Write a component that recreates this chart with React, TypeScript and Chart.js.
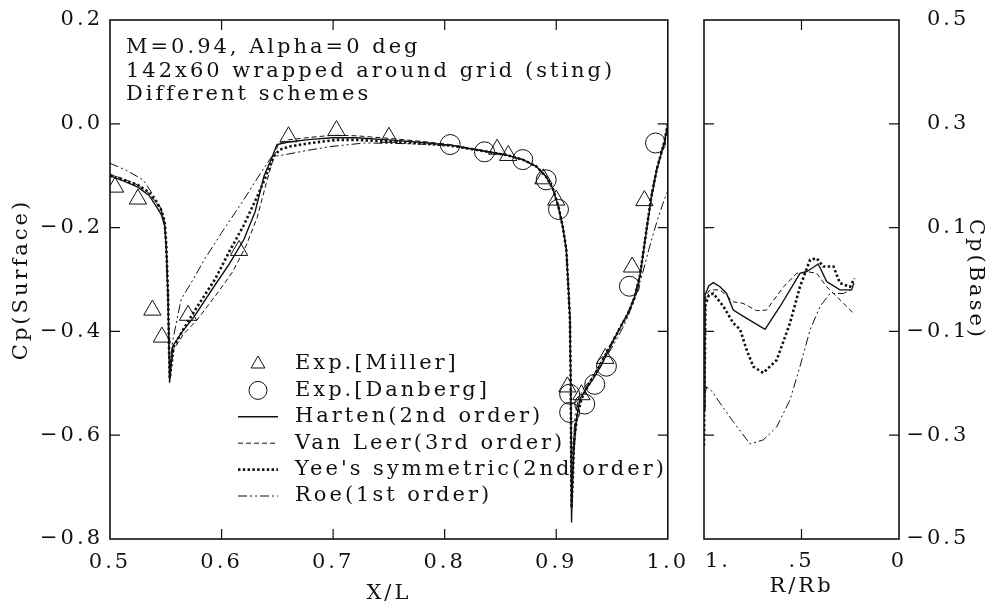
import React, { useEffect, useRef } from 'react';
import { Chart, registerables } from 'chart.js';

Chart.register(...registerables);

// ---------------- data: surface pressure (left panel) ----------------
const MILLER_X = [0.5045, 0.525, 0.538, 0.5465, 0.570, 0.6157, 0.660, 0.703, 0.750, 0.847, 0.857, 0.8885, 0.900, 0.910, 0.9226, 0.944, 0.968, 0.979];
const MILLER_Y = [-0.122, -0.145, -0.359, -0.411, -0.369, -0.244, -0.025, -0.013, -0.026, -0.049, -0.061, -0.106, -0.147, -0.507, -0.522, -0.452, -0.276, -0.148];

const DANBERG_X = [0.805, 0.8357, 0.870, 0.891, 0.902, 0.912, 0.912, 0.9255, 0.9345, 0.945, 0.9656, 0.989];
const DANBERG_Y = [-0.040, -0.054, -0.069, -0.108, -0.165, -0.521, -0.556, -0.540, -0.502, -0.467, -0.313, -0.037];

const HARTEN_X = [0.500, 0.512, 0.525, 0.535, 0.5415, 0.546, 0.549, 0.5505, 0.552, 0.553, 0.5534, 0.5563, 0.565, 0.5756, 0.5934, 0.607, 0.620, 0.630, 0.638, 0.645, 0.6497, 0.660, 0.680, 0.700, 0.720, 0.750, 0.780, 0.805, 0.836, 0.855, 0.870, 0.882, 0.891, 0.897, 0.902, 0.906, 0.909, 0.9108, 0.9123, 0.913, 0.9137, 0.9145, 0.9155, 0.918, 0.921, 0.927, 0.933, 0.940, 0.946, 0.952, 0.958, 0.964, 0.970, 0.975, 0.980, 0.985, 0.990, 0.9968, 1.000];
const HARTEN_Y = [-0.100, -0.110, -0.122, -0.138, -0.159, -0.175, -0.197, -0.242, -0.338, -0.447, -0.499, -0.428, -0.400, -0.371, -0.313, -0.270, -0.223, -0.170, -0.101, -0.066, -0.040, -0.035, -0.030, -0.027, -0.027, -0.031, -0.036, -0.041, -0.053, -0.060, -0.069, -0.082, -0.102, -0.125, -0.160, -0.200, -0.242, -0.313, -0.373, -0.500, -0.768, -0.700, -0.640, -0.572, -0.531, -0.510, -0.492, -0.467, -0.441, -0.415, -0.390, -0.367, -0.335, -0.295, -0.220, -0.146, -0.090, -0.037, -0.002];

const VANLEER_X = [0.500, 0.512, 0.525, 0.535, 0.5415, 0.546, 0.549, 0.5505, 0.552, 0.553, 0.5536, 0.557, 0.566, 0.578, 0.595, 0.610, 0.622, 0.632, 0.640, 0.646, 0.651, 0.660, 0.680, 0.700, 0.720, 0.750, 0.780, 0.805, 0.836, 0.855, 0.870, 0.882, 0.891, 0.897, 0.902, 0.906, 0.909, 0.9108, 0.9123, 0.913, 0.9137, 0.9147, 0.916, 0.919, 0.923, 0.929, 0.936, 0.943, 0.950, 0.957, 0.964, 0.970, 0.975, 0.980, 0.985, 0.990, 0.9968, 1.000];
const VANLEER_Y = [-0.097, -0.106, -0.118, -0.134, -0.152, -0.168, -0.190, -0.235, -0.330, -0.440, -0.480, -0.435, -0.405, -0.378, -0.330, -0.285, -0.235, -0.180, -0.115, -0.070, -0.038, -0.031, -0.026, -0.022, -0.023, -0.028, -0.034, -0.040, -0.052, -0.060, -0.069, -0.082, -0.102, -0.125, -0.160, -0.200, -0.242, -0.313, -0.380, -0.510, -0.730, -0.680, -0.600, -0.555, -0.525, -0.500, -0.475, -0.448, -0.420, -0.392, -0.365, -0.333, -0.290, -0.215, -0.140, -0.085, -0.035, 0.000];

const YEE_X = [0.500, 0.512, 0.525, 0.535, 0.5415, 0.546, 0.549, 0.5505, 0.552, 0.553, 0.5536, 0.557, 0.566, 0.5786, 0.594, 0.608, 0.620, 0.632, 0.640, 0.6468, 0.652, 0.660, 0.680, 0.703, 0.720, 0.750, 0.780, 0.805, 0.836, 0.855, 0.870, 0.882, 0.891, 0.897, 0.902, 0.906, 0.909, 0.9108, 0.9123, 0.913, 0.9137, 0.9147, 0.916, 0.919, 0.923, 0.929, 0.936, 0.943, 0.950, 0.957, 0.964, 0.970, 0.975, 0.980, 0.985, 0.990, 0.9968, 1.000];
const YEE_Y = [-0.100, -0.108, -0.118, -0.132, -0.150, -0.166, -0.188, -0.235, -0.330, -0.440, -0.490, -0.430, -0.395, -0.351, -0.300, -0.242, -0.195, -0.140, -0.100, -0.063, -0.050, -0.044, -0.037, -0.031, -0.031, -0.034, -0.038, -0.042, -0.053, -0.060, -0.069, -0.082, -0.102, -0.125, -0.160, -0.200, -0.242, -0.313, -0.380, -0.510, -0.740, -0.690, -0.610, -0.560, -0.528, -0.503, -0.477, -0.450, -0.422, -0.394, -0.367, -0.336, -0.293, -0.218, -0.143, -0.088, -0.036, -0.001];

const ROE_X = [0.500, 0.515, 0.5297, 0.5415, 0.546, 0.549, 0.5505, 0.552, 0.553, 0.5537, 0.556, 0.5638, 0.5745, 0.5845, 0.600, 0.620, 0.635, 0.645, 0.6557, 0.675, 0.697, 0.728, 0.760, 0.790, 0.805, 0.836, 0.855, 0.870, 0.882, 0.891, 0.897, 0.902, 0.906, 0.909, 0.9108, 0.9123, 0.913, 0.914, 0.9152, 0.917, 0.920, 0.925, 0.932, 0.940, 0.948, 0.955, 0.962, 0.970, 0.9775, 0.983, 0.990, 0.9968, 1.000];
const ROE_Y = [-0.076, -0.090, -0.108, -0.146, -0.165, -0.195, -0.240, -0.330, -0.430, -0.470, -0.420, -0.338, -0.300, -0.262, -0.210, -0.146, -0.095, -0.063, -0.060, -0.052, -0.044, -0.037, -0.038, -0.040, -0.042, -0.053, -0.060, -0.069, -0.082, -0.102, -0.125, -0.160, -0.200, -0.242, -0.313, -0.373, -0.500, -0.680, -0.620, -0.560, -0.530, -0.508, -0.490, -0.465, -0.438, -0.412, -0.383, -0.340, -0.287, -0.242, -0.190, -0.146, -0.130];

// ---------------- data: base pressure (right panel) ----------------
const BASE_HARTEN_R = [1.0, 0.995, 0.975, 0.952, 0.918, 0.884, 0.85, 0.781, 0.687, 0.61, 0.508, 0.473, 0.414, 0.371, 0.346, 0.303, 0.243, 0.231];
const BASE_HARTEN_CP = [-0.25, -0.03, -0.012, -0.006, -0.014, -0.027, -0.059, -0.075, -0.096, -0.052, 0.012, 0.015, 0.030, -0.004, -0.010, -0.020, -0.020, -0.007];

const BASE_VANLEER_R = [1.0, 0.99, 0.969, 0.918, 0.85, 0.80, 0.73, 0.68, 0.592, 0.524, 0.47, 0.422, 0.371, 0.319, 0.268, 0.234];
const BASE_VANLEER_CP = [-0.15, -0.03, -0.02, -0.02, -0.043, -0.046, -0.06, -0.059, -0.014, 0.012, 0.015, 0.012, -0.014, -0.033, -0.052, -0.065];

const BASE_YEE_R = [1.0, 0.993, 0.975, 0.952, 0.90, 0.85, 0.815, 0.781, 0.747, 0.696, 0.627, 0.559, 0.508, 0.456, 0.422, 0.388, 0.336, 0.303, 0.251, 0.229];
const BASE_YEE_CP = [-0.32, -0.05, -0.03, -0.027, -0.052, -0.084, -0.096, -0.136, -0.168, -0.18, -0.155, -0.084, -0.014, 0.038, 0.041, 0.025, 0.025, -0.007, -0.014, 0.002];

const BASE_ROE_R = [0.995, 0.986, 0.96, 0.918, 0.85, 0.764, 0.696, 0.627, 0.559, 0.508, 0.456, 0.405, 0.354, 0.285, 0.234];
const BASE_ROE_CP = [-0.22, -0.207, -0.215, -0.238, -0.274, -0.317, -0.309, -0.284, -0.232, -0.168, -0.097, -0.052, -0.027, -0.027, -0.017];

// ---------------- text ----------------
const ANNOTATION_LINES = ['M=0.94, Alpha=0 deg', '142x60 wrapped around grid (sting)', 'Different schemes'];
const LEGEND_LABELS = ['Exp.[Miller]', 'Exp.[Danberg]', 'Harten(2nd order)', 'Van Leer(3rd order)', "Yee's symmetric(2nd order)", 'Roe(1st order)'];
const BASE_R_TICKS = [1, 0.5, 0];
const BASE_R_LABELS = ['1.', '.5', '0'];
const BASE_Y_TITLE = 'Cp(Base)';
const MINUS = '\u2212';

// ---------------- styles ----------------
const FONT = "'DejaVu Serif', serif";
const FONT_SIZE = 21;
const INK = '#111111';
const LS = '3px';
const TICK_LEN = 10;

const STYLE_HARTEN = { borderDash: [] as number[], borderWidth: 1.4 };
const STYLE_VANLEER = { borderDash: [5, 3], borderWidth: 1 };
const STYLE_YEE = { borderDash: [2.4, 2.4], borderWidth: 2.6 };
const STYLE_ROE = { borderDash: [9, 3, 2, 3, 2, 3], borderWidth: 1 };

const zip = (xs: number[], ys: number[]) => xs.map((x, i) => ({ x, y: ys[i] }));
const abs1 = (v: number) => (Math.abs(v) < 1e-9 ? '0.0' : Math.abs(v).toFixed(1));
const fmt1 = (v: number) => (v < -1e-9 ? MINUS + abs1(v) : abs1(v));

const lineDs = (label: string, xs: number[], ys: number[], st: any) => ({
  label,
  data: zip(xs, ys),
  showLine: true,
  pointRadius: 0,
  borderColor: INK,
  backgroundColor: 'rgba(0,0,0,0)',
  borderDash: st.borderDash,
  borderWidth: st.borderWidth,
  borderCapStyle: 'butt',
  tension: 0,
  fill: false,
});

const spacingPlugin = {
  id: 'spacing',
  beforeUpdate(chart: any) {
    chart.ctx.letterSpacing = LS;
  },
  beforeDraw(chart: any) {
    chart.ctx.letterSpacing = LS;
  },
};

const frameTicksPlugin = {
  id: 'frameTicks',
  afterDatasetsDraw(chart: any) {
    const { ctx, chartArea: a, scales } = chart;
    const xs = scales.x;
    const ys = scales.y;
    ctx.save();
    ctx.strokeStyle = INK;
    ctx.setLineDash([]);
    ctx.lineWidth = 1.6;
    ctx.strokeRect(a.left, a.top, a.right - a.left, a.bottom - a.top);
    ctx.lineWidth = 1.2;
    ctx.beginPath();
    xs.ticks.forEach((t: any) => {
      const px = xs.getPixelForValue(t.value);
      if (px <= a.left + 1 || px >= a.right - 1) return;
      ctx.moveTo(px, a.bottom);
      ctx.lineTo(px, a.bottom - TICK_LEN);
      ctx.moveTo(px, a.top);
      ctx.lineTo(px, a.top + TICK_LEN);
    });
    ys.ticks.forEach((t: any) => {
      const py = ys.getPixelForValue(t.value);
      if (py <= a.top + 1 || py >= a.bottom - 1) return;
      ctx.moveTo(a.left, py);
      ctx.lineTo(a.left + TICK_LEN, py);
      ctx.moveTo(a.right, py);
      ctx.lineTo(a.right - TICK_LEN, py);
    });
    ctx.stroke();
    ctx.restore();
  },
};

const textPlugin = {
  id: 'surfaceText',
  afterDraw(chart: any) {
    const ctx = chart.ctx;
    const a = chart.chartArea;
    ctx.save();
    ctx.letterSpacing = LS;
    ctx.fillStyle = INK;
    ctx.font = `${FONT_SIZE}px ${FONT}`;
    ctx.textAlign = 'left';
    ctx.textBaseline = 'alphabetic';
    ANNOTATION_LINES.forEach((s, i) => {
      ctx.fillText(s, a.left + 16, a.top + 33 + i * 23.5);
    });
    const rowY0 = a.top + 344;
    const rowStep = 26.4;
    const symX = a.left + 148;
    const lineX0 = a.left + 128;
    const lineX1 = a.left + 168;
    const textX = a.left + 185;
    ctx.strokeStyle = INK;
    LEGEND_LABELS.forEach((lab, i) => {
      const y = rowY0 + i * rowStep;
      ctx.save();
      ctx.lineWidth = 1;
      ctx.setLineDash([]);
      if (i === 0) {
        const r = 8;
        ctx.beginPath();
        ctx.moveTo(symX, y - r);
        ctx.lineTo(symX + r * 0.866, y + r * 0.5);
        ctx.lineTo(symX - r * 0.866, y + r * 0.5);
        ctx.closePath();
        ctx.stroke();
      } else if (i === 1) {
        ctx.beginPath();
        ctx.arc(symX, y, 9, 0, Math.PI * 2);
        ctx.stroke();
      } else {
        const st = [STYLE_HARTEN, STYLE_VANLEER, STYLE_YEE, STYLE_ROE][i - 2];
        ctx.lineWidth = st.borderWidth;
        ctx.setLineDash(st.borderDash);
        ctx.beginPath();
        ctx.moveTo(lineX0, y);
        ctx.lineTo(lineX1, y);
        ctx.stroke();
      }
      ctx.restore();
      ctx.textBaseline = 'middle';
      ctx.fillText(lab, textX, y);
    });
    ctx.restore();
  },
};

const baseTextPlugin = {
  id: 'baseText',
  afterDraw(chart: any) {
    const ctx = chart.ctx;
    const a = chart.chartArea;
    const xs = chart.scales.x;
    const ys = chart.scales.y;
    ctx.save();
    ctx.letterSpacing = LS;
    ctx.fillStyle = INK;
    ctx.font = `${FONT_SIZE}px ${FONT}`;
    ctx.textBaseline = 'middle';
    ctx.textAlign = 'left';
    // bottom tick labels
    BASE_R_TICKS.forEach((v, i) => {
      const px = xs.getPixelForValue(v);
      const w = ctx.measureText(BASE_R_LABELS[i]).width;
      const x = i === 0 ? px + 1 : px - w / 2;
      ctx.fillText(BASE_R_LABELS[i], x, a.bottom + 23);
    });
    // right tick labels: digits start at a fixed column, minus sign placed before it
    const digitsX = a.right + 28;
    const minusW = ctx.measureText(MINUS).width;
    ys.ticks.forEach((t: any) => {
      const py = ys.getPixelForValue(t.value);
      const neg = t.value < -1e-9;
      ctx.fillText(abs1(t.value), digitsX, py);
      if (neg) ctx.fillText(MINUS, digitsX - minusW, py);
    });
    // right-side rotated title
    ctx.translate(chart.width - 22, (a.top + a.bottom) / 2);
    ctx.rotate(Math.PI / 2);
    const tw = ctx.measureText(BASE_Y_TITLE).width;
    ctx.fillText(BASE_Y_TITLE, -tw / 2, 0);
    ctx.restore();
  },
};

export default function App() {
  const leftRef = useRef<HTMLCanvasElement>(null);
  const rightRef = useRef<HTMLCanvasElement>(null);

  useEffect(() => {
    const tickFont = { family: FONT, size: FONT_SIZE };

    const left = new Chart(leftRef.current as HTMLCanvasElement, {
      type: 'scatter',
      data: {
        datasets: [
          {
            label: 'Exp.[Miller]',
            data: zip(MILLER_X, MILLER_Y),
            pointStyle: 'triangle',
            pointRadius: 10,
            borderColor: INK,
            borderWidth: 1,
            backgroundColor: 'rgba(0,0,0,0)',
            showLine: false,
          },
          {
            label: 'Exp.[Danberg]',
            data: zip(DANBERG_X, DANBERG_Y),
            pointStyle: 'circle',
            pointRadius: 10,
            borderColor: INK,
            borderWidth: 1,
            backgroundColor: 'rgba(0,0,0,0)',
            showLine: false,
          },
          lineDs('Harten(2nd order)', HARTEN_X, HARTEN_Y, STYLE_HARTEN),
          lineDs('Van Leer(3rd order)', VANLEER_X, VANLEER_Y, STYLE_VANLEER),
          lineDs("Yee's symmetric(2nd order)", YEE_X, YEE_Y, STYLE_YEE),
          lineDs('Roe(1st order)', ROE_X, ROE_Y, STYLE_ROE),
        ] as any,
      },
      options: {
        animation: false,
        responsive: true,
        maintainAspectRatio: false,
        events: [],
        layout: { padding: { left: 0, right: 28, top: 20, bottom: 0 } },
        plugins: { legend: { display: false }, tooltip: { enabled: false } },
        scales: {
          x: {
            type: 'linear',
            min: 0.5,
            max: 1.0,
            grid: { display: false, drawTicks: false },
            border: { display: false },
            ticks: { stepSize: 0.1, color: INK, font: tickFont, padding: 11, callback: (v: any) => fmt1(Number(v)), maxRotation: 0 },
            title: { display: true, text: 'X/L', color: INK, font: tickFont, padding: { top: 0, bottom: -3 } },
            afterFit: (s: any) => { s.height = 64; },
          },
          y: {
            type: 'linear',
            min: -0.8,
            max: 0.2,
            grid: { display: false, drawTicks: false },
            border: { display: false },
            ticks: { stepSize: 0.2, color: INK, font: tickFont, padding: 7, callback: (v: any) => fmt1(Number(v)) },
            title: { display: true, text: 'Cp(Surface)', color: INK, font: tickFont, padding: 9 },
            afterFit: (s: any) => { s.width = 110; },
          },
        },
      } as any,
      plugins: [spacingPlugin, frameTicksPlugin, textPlugin],
    });

    const right = new Chart(rightRef.current as HTMLCanvasElement, {
      type: 'scatter',
      data: {
        datasets: [
          lineDs('Harten(2nd order)', BASE_HARTEN_R, BASE_HARTEN_CP, STYLE_HARTEN),
          lineDs('Van Leer(3rd order)', BASE_VANLEER_R, BASE_VANLEER_CP, STYLE_VANLEER),
          lineDs("Yee's symmetric(2nd order)", BASE_YEE_R, BASE_YEE_CP, STYLE_YEE),
          lineDs('Roe(1st order)', BASE_ROE_R, BASE_ROE_CP, STYLE_ROE),
        ] as any,
      },
      options: {
        animation: false,
        responsive: true,
        maintainAspectRatio: false,
        events: [],
        layout: { padding: { left: 24, right: 31, top: 20, bottom: 0 } },
        plugins: { legend: { display: false }, tooltip: { enabled: false } },
        scales: {
          x: {
            type: 'linear',
            min: 0,
            max: 1,
            reverse: true,
            grid: { display: false, drawTicks: false },
            border: { display: false },
            ticks: { stepSize: 0.5, display: false },
            title: { display: true, text: 'R/Rb', color: INK, font: tickFont, padding: { top: 0, bottom: 4 } },
            afterFit: (s: any) => { s.height = 64; },
          },
          y: {
            type: 'linear',
            position: 'right',
            min: -0.5,
            max: 0.5,
            grid: { display: false, drawTicks: false },
            border: { display: false },
            ticks: { stepSize: 0.2, display: false },
            afterFit: (s: any) => { s.width = 67; },
          },
        },
      } as any,
      plugins: [spacingPlugin, frameTicksPlugin, baseTextPlugin],
    });

    return () => {
      left.destroy();
      right.destroy();
    };
  }, []);

  return (
    <div style={{ position: 'absolute', left: 0, top: 0, width: 997, height: 603, background: '#fff', overflow: 'hidden' }}>
      <div style={{ position: 'absolute', left: 0, top: 0, width: 700, height: 603 }}>
        <canvas ref={leftRef} />
      </div>
      <div style={{ position: 'absolute', left: 680, top: 0, width: 317, height: 603 }}>
        <canvas ref={rightRef} />
      </div>
    </div>
  );
}
